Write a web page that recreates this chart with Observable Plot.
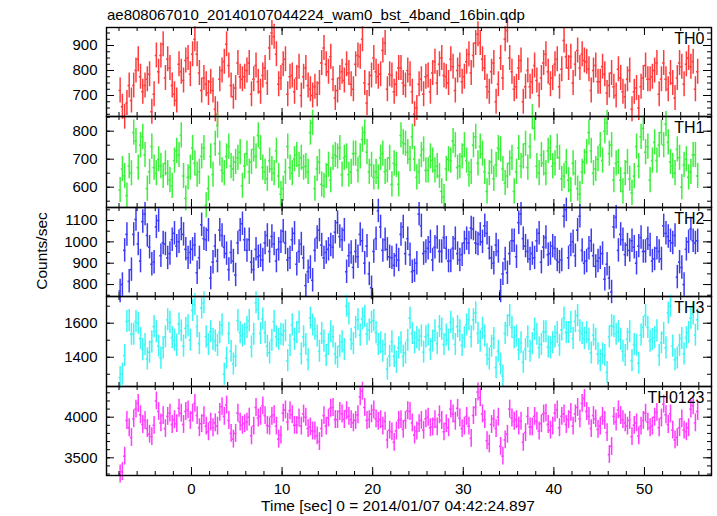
<!DOCTYPE html>
<html><head><meta charset="utf-8">
<script src="https://cdn.jsdelivr.net/npm/d3@7"></script>
<script src="https://cdn.jsdelivr.net/npm/@observablehq/plot@0.6"></script>
<style>
body{margin:0;background:#fff}
#c{position:relative;width:717px;height:516px;overflow:hidden;font-family:"Liberation Sans",Arial,Helvetica,sans-serif;color:#000}
.p{position:absolute;left:0}
</style></head><body><div id="c"></div>
<script>
// ---- data ----
const title = "ae808067010_20140107044224_wam0_bst_4band_16bin.qdp";
const xLabel = "Time [sec] 0 = 2014/01/07 04:42:24.897";
const yLabel = "Counts/sec";
const panels = ["TH0", "TH1", "TH2", "TH3", "TH0123"];
const binStart = -7.875, binSize = 0.25;
const th0 = [720,655,615,670,740,680,740,800,845,775,715,740,765,785,635,705,860,795,860,905,
770,845,810,740,705,680,825,795,760,840,850,785,865,925,865,790,720,770,745,710,
755,720,645,625,765,800,835,905,820,740,695,730,830,775,765,775,800,830,705,765,
820,755,715,780,810,750,890,950,935,865,745,770,825,845,705,775,780,715,770,815,
700,775,810,740,725,700,735,705,750,830,890,825,795,855,765,690,720,770,795,760,
825,790,745,725,825,860,855,925,750,670,745,780,850,795,775,785,880,910,725,785,
780,715,745,810,810,750,740,800,785,715,625,650,745,765,705,775,780,715,790,835,
750,825,850,780,775,750,845,815,720,800,820,755,775,835,865,790,860,910,945,910,
845,810,735,715,795,830,675,745,850,770,925,960,850,795,725,735,810,840,675,735,
800,735,755,820,760,700,770,830,865,795,745,770,825,845,735,805,920,855,810,855,
750,825,880,810,865,840,835,805,720,800,820,755,755,815,785,710,740,790,735,700,
805,770,715,695,765,800,645,715,730,650,735,770,820,765,765,775,800,830,705,765,
830,765,725,790,750,690,770,830,815,745,825,850,815,835,725,795];
const th1 = [590,665,640,570,675,650,795,765,670,750,780,715,595,655,745,670,650,700,675,640,
685,650,625,605,695,730,715,785,640,560,635,670,740,685,645,655,710,740,535,595,
710,645,755,820,720,660,650,710,745,675,665,690,705,725,605,675,720,655,690,735,
710,785,740,670,655,630,695,665,650,730,640,575,595,655,745,670,650,700,715,680,
705,670,675,655,795,830,595,665,690,610,605,640,680,625,705,715,710,740,645,705,
710,645,655,720,720,660,710,770,795,725,655,680,635,655,635,705,720,655,660,705,
610,685,680,610,785,760,755,725,700,780,700,635,655,715,735,660,660,710,695,660,
675,640,585,565,665,700,695,765,750,670,675,710,750,695,645,655,750,780,685,745,
720,655,585,650,690,630,680,740,735,665,615,640,685,705,585,655,740,675,710,755,
670,745,850,810,675,650,715,685,650,730,740,675,685,745,705,630,640,690,625,590,
685,650,595,575,655,690,725,795,730,650,665,700,750,695,800,830,720,750,625,685,
690,625,585,650,690,630,580,640,745,675,780,810,725,745,625,695,760,695,750,795,
750,825,760,690,675,650,735,705,600,680,700,635,655,715,715,640];
const th2 = [770,800,960,1035,815,870,1035,1105,990,910,1095,1130,1030,975,895,905,1070,1100,935,995,
990,925,945,1010,1040,980,1000,1060,1035,965,925,950,965,985,855,925,1080,1015,1010,1055,
830,905,980,910,1055,1030,975,945,870,950,910,845,995,1055,1085,1010,960,1010,905,870,
965,930,935,915,995,1030,955,1025,990,910,965,1000,1050,995,915,925,1010,1040,895,955,
990,925,795,860,880,820,960,1020,1055,985,925,950,965,985,975,1045,1090,1025,1010,1055,
860,935,950,880,955,930,1035,1005,900,980,850,785,955,1015,1145,1070,960,1010,965,930,
925,890,935,915,1035,1070,945,1015,940,860,865,900,1130,1075,945,955,970,1000,915,975,
1020,955,955,1020,970,910,910,970,1015,945,915,940,995,1015,995,1065,1060,995,990,1035,
1000,1075,1040,970,925,900,985,955,770,850,920,855,945,1005,1005,930,1090,1130,1015,980,
955,920,945,925,1005,1040,905,975,1020,940,945,980,970,915,905,915,1120,1150,925,985,
1000,935,1055,1120,960,900,910,970,1005,935,885,910,925,945,825,895,830,765,1070,1115,
960,1035,1010,940,985,960,1005,975,900,980,1020,955,955,1015,985,910,920,970,955,920,
1075,1040,1025,1005,995,1030,835,905,880,800,965,1000,1060,1005,995,1005];
const th3 = [1280,1300,1410,1610,1615,1535,1535,1610,1600,1510,1445,1475,1390,1430,1490,1580,1550,1465,1395,1455,
1520,1620,1605,1515,1500,1470,1595,1555,1465,1570,1585,1500,1675,1710,1580,1480,1690,1720,1520,1475,
1550,1505,1495,1470,1545,1590,1300,1395,1540,1435,1360,1405,1615,1545,1525,1535,1575,1615,1460,1535,
1720,1680,1540,1625,1545,1465,1425,1500,1610,1520,1505,1535,1530,1555,1380,1470,1590,1505,1545,1605,
1420,1520,1475,1385,1630,1590,1565,1525,1435,1540,1495,1410,1475,1550,1520,1420,1400,1465,1490,1445,
1700,1655,1505,1480,1575,1620,1530,1625,1640,1535,1560,1605,1615,1545,1475,1485,1435,1475,1330,1405,
1490,1405,1370,1455,1485,1405,1425,1500,1630,1540,1485,1515,1500,1525,1430,1520,1530,1445,1495,1555,
1480,1580,1565,1475,1530,1500,1605,1565,1475,1580,1555,1470,1515,1590,1620,1520,1620,1660,1540,1495,
1570,1525,1415,1390,1465,1510,1340,1435,1360,1290,1540,1585,1645,1575,1515,1525,1445,1485,1370,1445,
1520,1435,1480,1565,1535,1455,1475,1550,1550,1460,1455,1485,1520,1545,1470,1560,1630,1545,1545,1605,
1510,1610,1645,1555,1540,1510,1545,1505,1425,1530,1505,1420,1380,1420,1410,1310,1520,1585,1580,1535,
1550,1505,1435,1410,1505,1550,1380,1475,1470,1365,1530,1575,1645,1575,1495,1505,1515,1555,1410,1485,
1540,1455,1660,1700,1465,1385,1395,1470,1510,1420,1515,1545,1630,1655,1530,1620];
const th0123 = [3300,3330,3520,3960,3870,3750,3980,4100,4170,4030,3910,3960,3860,3790,3760,3900,4200,4070,3930,4020,
3860,4010,4050,3910,3970,3920,4110,4050,3910,4070,4090,3960,4050,4170,4020,3870,3920,4020,3890,3820,
3940,3870,3930,3890,4060,4130,4010,4150,3960,3800,3730,3800,4050,3940,3900,3920,3940,4000,3770,3890,
4120,3990,4010,4140,4020,3900,3890,4010,4030,3890,3730,3780,4050,4090,3940,4080,4030,3900,3900,3990,
3890,4040,4000,3860,3880,3830,3830,3770,3700,3860,4020,3890,3990,4110,4120,3970,3970,4070,4040,3970,
4080,4010,3970,3930,3960,4030,4250,4320,4120,3960,3970,4040,4090,3980,3950,3970,3890,3950,3720,3840,
3820,3690,3830,3960,3970,3850,3960,4080,4070,3930,3780,3830,3920,3960,3840,3980,4000,3870,3880,3970,
3880,4030,3960,3820,3920,3870,4100,4040,3950,4110,3990,3860,3890,4010,3890,3740,4020,4120,4310,4240,
4040,3970,3710,3670,3910,3980,3860,4000,3640,3520,3720,3790,4100,3990,3950,3970,3890,3950,3690,3810,
4010,3880,3880,4010,3950,3830,3920,4040,4050,3910,3840,3890,4050,4090,3870,4010,4040,3910,3970,4060,
3890,4040,4120,3980,4170,4230,4070,4010,3860,4020,3980,3850,3890,4010,3960,3810,3540,3640,4010,3940,
4090,4020,3970,3930,3890,3960,3760,3900,3930,3770,3890,3960,4050,3940,3870,3890,4000,4060,3870,3990,
4160,4030,3910,4040,3840,3720,3750,3870,3980,3840,3820,3870,4100,4140,3930,4070];
const series = [th0, th1, th2, th3, th0123];
const errors = [50, 45, 55, 65, 110];
const yDomains = [[616, 972], [527.5, 852.5], [744, 1161], [1228, 1757], [3282, 4378]];
const yTickLabels = [[700, 800, 900], [600, 700, 800], [800, 900, 1000, 1100], [1400, 1600], [3500, 4000]];
const yMinorStep = [25, 50, 50, 100, 100];
const xTickLabels = [0, 10, 20, 30, 40, 50];
const xMinorStep = 2;
const xDomain = [-9.38, 57.4];
const colors = ["#ff3c3c", "#3cf03c", "#3c3cf5", "#3cf5f5", "#ff3cff"];

// ---- layout ----
const W = 717, ML = 106, MR = 6;
const tops = [27, 116, 207, 296, 386], bots = [116, 207, 296, 386, 475];
const pw = W - ML - MR;
const root = document.getElementById("c");
const font = '"Liberation Sans", Arial, Helvetica, sans-serif';

series.forEach((vals, k) => {
  const data = vals.map((v, i) => ({t: binStart + i * binSize, v, e: errors[k]}));
  const h = bots[k] - tops[k];
  const last = k === series.length - 1;
  const mb = last ? 41 : 0;
  const [y0, y1] = yDomains[k];
  const st = yMinorStep[k];
  const minorY = d3.range(Math.ceil(y0 / st) * st, y1, st);
  const minorX = d3.range(Math.ceil(xDomain[0] / xMinorStep) * xMinorStep, xDomain[1], xMinorStep);
  const majorX = xTickLabels;
  const col = colors[k];
  const marks = [
    Plot.ruleX(data, {x: "t", y1: d => d.v - d.e, y2: d => d.v + d.e, stroke: col, strokeWidth: 1.5}),
    Plot.ruleY(data, {y: "v", x1: d => d.t - binSize / 2, x2: d => d.t + binSize / 2, stroke: col, strokeWidth: 1.6}),
    Plot.ruleY(minorY, {y: d => d, insetRight: pw - 4, stroke: "#000"}),
    Plot.ruleY(minorY, {y: d => d, insetLeft: pw - 4, stroke: "#000"}),
    Plot.ruleY(yTickLabels[k], {y: d => d, insetRight: pw - 8, stroke: "#000"}),
    Plot.ruleY(yTickLabels[k], {y: d => d, insetLeft: pw - 8, stroke: "#000"}),
    Plot.ruleX(minorX, {x: d => d, insetBottom: h - 4, stroke: "#000"}),
    Plot.ruleX(minorX, {x: d => d, insetTop: h - 4, stroke: "#000"}),
    Plot.ruleX(majorX, {x: d => d, insetBottom: h - 8, stroke: "#000"}),
    Plot.ruleX(majorX, {x: d => d, insetTop: h - 8, stroke: "#000"}),
    Plot.axisY({anchor: "left", ticks: yTickLabels[k], tickSize: 0, tickPadding: 9, tickFormat: "d", fontSize: 15, label: null}),
    Plot.frame({stroke: "#000", strokeWidth: 1.4}),
    Plot.text([panels[k]], {text: d => d, frameAnchor: "top-right", dx: -7, dy: 5, fontSize: 16, fill: "#000"})
  ];
  if (last) marks.push(Plot.axisX({anchor: "bottom", ticks: xTickLabels, tickSize: 0, tickPadding: 8, tickFormat: "d", fontSize: 15, label: null}));
  const svg = Plot.plot({
    width: W, height: h + mb,
    marginLeft: ML, marginRight: MR, marginTop: 0, marginBottom: mb,
    x: {domain: xDomain, label: null, axis: last ? undefined : null},
    y: {domain: yDomains[k], label: null},
    style: {fontFamily: font, fontSize: "15px", background: "transparent", overflow: "visible", color: "#000"},
    marks
  });
  const wrap = document.createElement("div");
  wrap.className = "p";
  wrap.style.top = tops[k] + "px";
  wrap.appendChild(svg);
  root.appendChild(wrap);
});

// ---- overlay texts ----
const ov = d3.select(root).append("svg")
  .attr("width", W).attr("height", 516)
  .style("position", "absolute").style("left", 0).style("top", 0)
  .style("pointer-events", "none").style("font-family", font);
ov.append("text").attr("x", 107).attr("y", 19.5).attr("font-size", 15).text(title);
ov.append("text").attr("transform", "translate(47,251) rotate(-90)").attr("text-anchor", "middle").attr("font-size", 15.5).text(yLabel);
ov.append("text").attr("x", 398).attr("y", 511).attr("text-anchor", "middle").attr("font-size", 15.5).text(xLabel);
</script>
</body></html>
